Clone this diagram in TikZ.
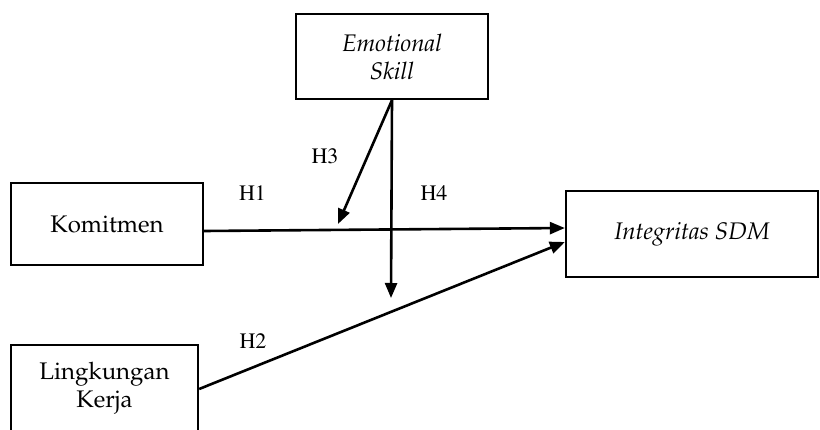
\documentclass[tikz,border=0pt]{standalone}
\usepackage[T1]{fontenc}
\renewcommand{\rmdefault}{ppl}
\usepackage{tikz}
\usetikzlibrary{arrows.meta,positioning}
\newcommand{\hlab}[1]{{\fontfamily{ptm}\selectfont #1}}

\begin{document}
\begin{tikzpicture}[x=0.5pt,y=-0.5pt,font=\fontsize{12}{14}\selectfont,
  var/.style={draw, line width=1.15pt, minimum width=96pt, minimum height=42.5pt, align=center, inner sep=0pt},
  hyp/.style={font=\fontsize{11}{13}\selectfont, inner sep=0pt},
  arr/.style={-{Triangle[length=7.5pt,width=6pt]}, line width=1.3pt}]
\useasboundingbox (0,0) rectangle (820,429);
% variables
\node[var] (emo) at (392,56.5) {\textit{Emotional}\\\textit{Skill}};
\node[var, minimum height=41pt] (kom) at (107,224) {Komitmen};
\node[var, minimum width=93.5pt, minimum height=43pt] (lk) at (104.5,388) {Lingkungan\\Kerja};
\node[var, minimum width=126pt, minimum height=43pt] (ints) at (692,234) {\textit{Integritas SDM}};
% free ends of the moderation arrows
\coordinate (h3end) at (338,224);
\coordinate (h4end) at (391,298);
% paths
\draw[arr] ([yshift=-3.5pt]kom.east) -- ([yshift=3pt]ints.west);
\draw[arr] ([yshift=-0.5pt]lk.east) -- ([yshift=-4pt]ints.west);
\draw[arr] (emo.south) -- (h3end);
\draw[arr] (emo.south) -- (h4end);
% hypothesis labels
\node[hyp] (h1) at (252.5,193.5) {\hlab{H1}};
\node[hyp] (h2) at (253,341) {\hlab{H2}};
\node[hyp] (h3) at (325,156.5) {\hlab{H3}};
\node[hyp] (h4) at (434,193.5) {\hlab{H4}};
\end{tikzpicture}
\end{document}
